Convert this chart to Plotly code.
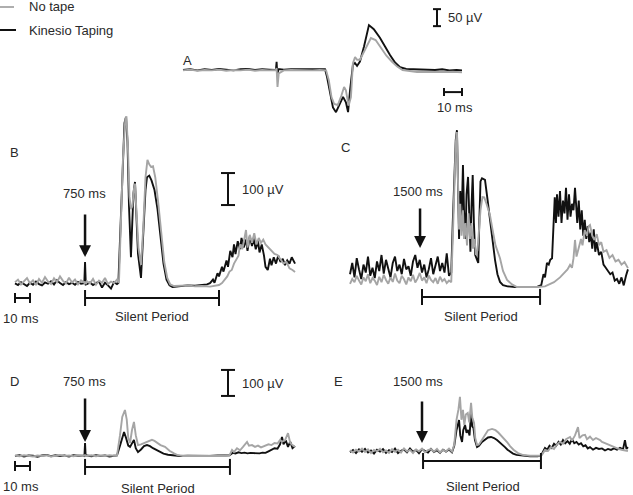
import plotly.graph_objects as go

# ---------------- data: time in ms, amplitude in µV ----------------
# A: compound muscle action potential (M-wave)
A_T_KT = [0, 4, 8, 12, 16, 20, 24, 28, 32, 36, 40, 44, 48, 51.6, 52.0, 52.4, 53.0, 56, 60, 64, 68, 72, 76,
          78.9, 80, 81.7, 83.3, 85, 87, 88.9, 90.5, 91.7, 92.8, 94.4, 95.5, 96.7, 98.3, 100.6, 103.3, 106,
          109.4, 112.2, 115, 117.8, 120.6, 124, 128, 132, 136, 140, 144, 148, 152, 155]
A_KT = [0, 2, -1, 2, 0, 3, 1, -1, 2, 3, 0, 2, 1, 0, 24, -15, 3, 1, 2, 3, 2, 2, 3,
        2, -20, -70, -110, -124, -100, -79, -95, -124, -60, 15, 21, 12, 25, 70, 132, 120,
        95, 68, 44, 22, 8, 3, 2, 3, 1, 0, 2, -1, 0, -1]
A_T_NT = [0, 4, 8, 12, 16, 20, 24, 28, 32, 36, 40, 44, 48, 51.6, 52.0, 52.5, 53.2, 56, 60, 64, 68, 72, 76,
          79.5, 81, 82.5, 84, 86, 88, 89.5, 90.5, 92, 93.3, 94.4, 95.6, 96.7, 98.3, 101, 104.4, 107,
          110, 113, 116, 119, 122, 126, 130, 134, 138, 142, 146, 150, 155]
A_NT = [-1, 1, -2, 0, -1, 1, -2, 0, -1, 1, -2, 0, -1, 0, 6, -50, -10, -1, 0, -1, 0, -1, 0,
        -1, -30, -80, -100, -103, -75, -50, -60, -105, -80, 20, 38, 30, 30, 60, 94, 88,
        65, 42, 25, 10, 0, -4, -6, -5, -6, -5, -6, -5, -7]

# B: 750 ms, no tape vs Kinesio Taping (upper row)
B_T_PRE = [0, 2, 4, 6, 8, 10, 12, 14, 16, 18, 20, 22, 24, 26, 28, 30, 32, 34, 36, 38, 40, 42, 44,
           46.2, 46.7, 47.2, 48, 50, 52, 54, 56, 58, 60, 62, 64, 66, 68]
B_KT_PRE = [8, 3, 12, 5, 0, 10, 4, 14, 6, 2, 11, 7, 15, 5, 18, 9, 3, 12, 6, 10, 4, 13, 7,
            9, 75, 5, 6, 11, 3, 9, 14, -5, 10, 2, -8, 12, 6]
B_NT_PRE = [12, 20, 5, 15, 25, 8, 18, 3, 22, 10, 28, 14, 6, 24, 12, 30, 16, 8, 26, 11, 20, 5, 18,
            10, 14, 6, 15, 8, 22, 4, 17, 10, 25, 6, 14, 9, 20]
B_T_KT = [68.9, 70, 71.5, 73, 74, 75, 76, 77.3, 78.2, 79, 80, 80.8, 82, 84, 85.5, 87, 88, 89.5, 91, 93,
          95, 97, 99, 101, 103, 105, 110, 115, 120, 125, 128, 130, 132, 133, 135, 136, 138, 139, 141, 142,
          143.5, 145, 146, 147, 148.5, 150, 151, 152.5, 154, 155, 156.5, 158, 159, 160.5, 162, 163, 164.5,
          166, 167, 168.5, 170, 171, 172.5, 174, 175.5, 177, 178.5, 180, 181.5, 183, 184.5, 186.7]
B_KT = [9, 150, 380, 510, 528, 450, 250, 90, 200, 290, 325, 220, 100, 25, 150, 300, 340, 345, 330, 300,
        240, 150, 70, 20, 2, -3, 0, 2, 1, 3, 5, 9, 20, 10, 40, 30, 60, 45, 80, 60,
        110, 90, 130, 100, 140, 115, 150, 120, 145, 110, 155, 125, 150, 115, 140, 105, 130,
        95, 60, 50, 85, 65, 90, 70, 95, 75, 85, 65, 80, 70, 90, 70]
B_T_NT = [69.3, 70.5, 72, 73.5, 74.3, 75.3, 76.3, 77.3, 78.3, 79.2, 80, 81, 82.3, 84, 85.5, 87, 88.3, 89.5,
          90.7, 92, 93.5, 95.5, 97.5, 99.5, 101.5, 103.5, 106, 110, 115, 120, 125, 130, 134, 136, 138, 140,
          141.5, 143, 144.5, 146, 147.5, 149, 150, 151.5, 153, 154, 155, 156.5, 158, 159.5, 161, 162.5,
          164, 165.5, 167, 169, 171, 173, 175, 177, 179, 181, 183, 185, 186.7]
B_NT = [10, 160, 400, 520, 530, 430, 280, 240, 250, 300, 320, 230, 120, 66, 180, 340, 394, 380,
        372, 374, 340, 260, 160, 75, 25, 5, 0, 1, 2, -1, 0, -2, 2, 3, 9, 20,
        30, 45, 50, 70, 85, 95, 130, 115, 150, 175, 120, 160, 135, 165, 130, 150,
        135, 145, 130, 120, 110, 100, 97, 85, 70, 75, 55, 50, 44]

# C: 1500 ms (upper row)
C_T_PRE = [0, 1.5, 3, 4.5, 6, 7.5, 9, 10.5, 12, 13.5, 15, 16.5, 18, 19.5, 21, 22.5, 24, 25.5, 27, 28.5,
           30, 31.5, 33, 34.5, 36, 37.5, 39, 40.5, 42, 43.5, 45, 46.5, 48, 49.5, 51, 52.5, 54, 55.5,
           57, 58.5, 60, 61.5, 63, 64.5, 66]
C_KT_PRE = [40, 75, 30, 90, 55, 25, 70, 45, 95, 35, 60, 28, 80, 50, 100, 42, 85, 60, 30, 75,
            95, 50, 70, 40, 88, 55, 65, 35, 80, 100, 60, 85, 45, 70, 30, 55, 90, 40,
            65, 95, 50, 75, 45, 105, 35]
C_NT_PRE = [10, 25, 15, 35, 20, 8, 30, 18, 40, 12, 28, 20, 6, 32, 15, 38, 22, 10, 30, 16,
            42, 20, 12, 35, 24, 8, 30, 18, 38, 14, 26, 44, 20, 30, 12, 36, 22, 15,
            28, 10, 32, 18, 25, 12, 20]
C_T_KT = [67.5, 68.5, 69.5, 70.5, 71.3, 72, 72.7, 73.5, 74.3, 75.3, 76, 77, 77.7, 78.7, 79.5, 80.3, 81,
          81.8, 82.6, 83.5, 84.7, 85.5, 86.2, 87, 88, 89, 90, 91.5, 93.3, 95, 96.7, 98.3, 100, 102, 105,
          110, 115, 120, 125, 127.5, 129, 130, 131.3, 132.5, 133.5, 134.7, 135.5, 136.5, 137.3, 138,
          139, 140, 141, 142, 143, 144, 145, 146, 147, 148, 149, 150, 150.7, 151.5, 152.5, 153.5,
          154.5, 155.5, 156.5, 157.5, 158.5, 159.5, 160.5, 161.5, 162.5, 163.5, 164.5, 166, 167.5,
          169, 170.5, 172, 173.5, 175, 176.5, 178, 179.5, 181, 182.5, 184, 185.3]
C_KT = [45, 200, 350, 460, 490, 330, 150, 300, 190, 381, 240, 150, 290, 344, 200, 110, 250,
        350, 200, 100, 85, 75, 200, 330, 340, 338, 335, 280, 209, 140, 84, 40, 16, 6, 2,
        0, 1, 0, 1, 6, 40, 30, 75, 70, 85, 90, 180, 280, 200, 290,
        220, 300, 200, 270, 230, 310, 210, 290, 220, 260, 240, 310, 260, 200, 270, 180,
        240, 160, 210, 150, 190, 140, 170, 120, 180, 110, 140, 100, 110,
        70, 60, 50, 40, 45, 20, 25, 10, 30, 5, 35, 55]
C_T_NT = [67.5, 68.5, 69.5, 70.5, 71.3, 72, 72.7, 73.5, 74.3, 75.3, 76, 77, 78, 79, 80, 81, 82, 83, 84,
          85, 86, 87, 88.3, 89.5, 91, 93.3, 95, 97, 100, 102, 104.7, 108, 111.3, 115, 120, 125, 130,
          133, 136, 140, 143, 145, 146.7, 148, 149, 150, 151, 152.5, 154, 155, 156.5, 158, 159, 160,
          161.5, 163, 164.5, 166, 167.5, 169, 171, 173, 175, 177, 179, 181, 183, 185.3]
C_NT = [15, 150, 330, 450, 484, 300, 180, 260, 160, 240, 150, 200, 130, 230, 150, 200, 120, 150, 100,
        115, 180, 240, 281, 280, 260, 225, 180, 130, 90, 50, 22, 8, 0, 0, -1, 0, 2,
        8, 15, 30, 45, 55, 69, 60, 90, 147, 95, 120, 150, 130, 178, 160, 190, 194,
        160, 147, 165, 131, 140, 110, 115, 91, 100, 80, 85, 70, 78, 59]

# D: 750 ms (lower row)
D_T_PRE = [0, 3, 6, 9, 12, 15, 18, 21, 24, 27, 30, 33, 36, 39, 42, 45, 46.3, 46.7, 47.1,
           48, 51, 54, 57, 60, 63, 66]
D_KT_PRE = [0, 3, -2, 2, 1, -3, 2, 4, -1, 3, 0, 2, -2, 3, 1, 2, 2, 50, 0, 2, -1, 3, 0, 2, -2, 1]
D_NT_PRE = [2, -1, 3, 1, -2, 2, 0, 3, -2, 1, 4, 0, 2, -1, 3, 0, 1, 3, 0, 1, 3, -1, 2, 0, 3, 1]
D_T_KT = [68, 70, 71.5, 72.7, 74, 75.5, 76.7, 78, 79.3, 80.5, 82, 84, 86, 88, 90, 92, 94, 96.7, 99, 102,
          105.3, 110, 115, 120, 125, 130, 135, 140, 143, 145, 147, 149, 151, 153, 155, 157, 159, 161,
          163, 165, 167, 169, 171, 173, 175, 176.7, 178, 179, 180.5, 182, 183.5, 185, 186.7]
D_KT = [2, 40, 75, 92, 70, 40, 35, 50, 62, 30, 15, 25, 38, 42, 38, 30, 24, 15, 9, 5,
        2, 0, 1, 0, 1, 0, 2, 1, 3, 12, 10, 14, 11, 13, 10, 12, 11, 12,
        10, 13, 12, 18, 25, 30, 28, 45, 73, 45, 60, 35, 55, 30, 38]
D_T_NT = [68, 70, 71.5, 73.3, 74.5, 75.5, 76.7, 78, 79.3, 80.5, 82, 84, 86, 88, 90, 91.3, 93, 95, 97, 100,
          103, 106, 108, 112, 120, 125, 130, 135, 140, 143, 144.7, 146, 148, 150, 152, 154.7, 156, 158,
          160, 162, 164, 166.7, 169, 171, 173, 175, 176.7, 178, 180, 182, 183.5, 185, 186.7]
D_NT = [2, 80, 150, 177, 140, 70, 50, 100, 131, 80, 42, 45, 50, 55, 60, 62, 58, 50, 42, 35,
        20, 10, 4, 0, 1, -1, 0, 1, 0, 2, 23, 15, 30, 22, 35, 54, 40, 42,
        35, 40, 33, 38, 45, 42, 50, 48, 62, 55, 60, 88, 50, 42, 35]

# E: 1500 ms (lower row)
E_T_PRE = [0, 2, 4, 6, 8, 10, 12, 14, 16, 18, 20, 22, 24, 26, 28, 30, 32, 34, 36, 38, 40, 42, 44, 46,
           48, 50, 52, 54, 56, 58, 60, 62, 64, 66, 68]
E_KT_PRE = [-5, 4, -8, 6, -3, 8, -6, 2, -10, 5, -2, 7, -7, 3, -4, 9, -8, 1, 6, -5, 10, -3, 4, -9,
            7, 0, -6, 8, -4, 3, -7, 5, -2, 6, -5]
E_NT_PRE = [3, -6, 5, -2, 9, -4, 6, -8, 4, -1, 8, -5, 2, -7, 7, -3, 5, -6, 10, -2, 4, -8, 6, -1,
            9, -5, 3, 7, -3, 8, -6, 4, -2, 9, -3]
E_T_KT = [69.5, 71, 72.7, 73.5, 74.7, 75.5, 76.7, 77.7, 78.7, 79.7, 80.7, 81.5, 82.3, 83.3, 84.7, 86, 88,
          90, 92, 94, 96, 98, 100, 102, 103.3, 105, 107, 108.7, 111, 115, 120, 125, 127.3, 128.5, 130,
          131.5, 133, 134.5, 136, 137.5, 139, 140.5, 142, 143.5, 145, 146.5, 148, 149.5, 151, 152.5,
          154, 155.5, 157, 158.5, 160, 162, 164, 166, 168, 170, 172, 174, 176, 178, 180, 182, 183.3,
          184.3, 185.3]
E_KT = [20, 80, 119, 60, 35, 80, 100, 70, 81, 60, 146, 95, 89, 42, 15, 20, 35,
        45, 52, 54, 50, 42, 33, 22, 15, 5, -5, -10, -15, -18, -20, -20, -18, -5, 12,
        5, 20, 12, 28, 20, 35, 25, 42, 30, 38, 28, 45, 30, 35, 25,
        30, 18, 22, 10, 15, 5, 12, 8, 10, 2, 8, 4, 10, 5, 12, 6, 42, 8, 15]
E_T_NT = [69.5, 71, 72.3, 73.3, 74.3, 75.3, 76.2, 77.2, 78.5, 79.5, 80.7, 81.5, 82.7, 83.5, 84.7, 86, 88,
          90, 92, 94.7, 97, 99, 101, 103.3, 105, 106.7, 109, 112, 115, 120, 125, 127.3, 128.5, 130, 132,
          134, 136, 138, 140, 142, 144, 146.7, 148, 150, 152, 153, 155, 156.7, 158, 160, 162, 164,
          166.7, 168, 170, 172, 174, 176.7, 179, 181, 183, 185.3]
E_NT = [25, 120, 160, 208, 120, 158, 100, 140, 146, 110, 185, 130, 108, 50, 23, 25, 45,
        65, 80, 85, 80, 70, 58, 45, 32, 19, 5, -8, -15, -18, -19, -18, -10, 4, 0,
        15, 8, 25, 35, 28, 45, 54, 40, 60, 92, 50, 60, 62, 45, 55, 42, 50,
        42, 35, 30, 25, 18, 12, 8, 5, 4, 0]

# stimulus (arrow) time and silent period limits, ms
STIM = {"B": 46.7, "C": 46.7, "D": 46.7, "E": 48.0}
SP_START = {"B": 46.7, "C": 48.0, "D": 46.7, "E": 48.7}
SP_END = {"B": 136, "C": 126.7, "D": 143.3, "E": 127.3}

# ---------------- layout geometry ----------------
W, H = 633, 495
FONT = "Liberation Sans, Arial, sans-serif"
INK = "#111111"
GREY = "#a5a5a5"
TXT = "#2a2a2a"

# pixel origin (time 0, 0 µV), px per ms, px per µV
GEOM = {
    "A": (183, 70, 1.8, 0.34),
    "B": (15, 286, 1.5, 0.32),
    "C": (350, 287, 1.5, 0.32),
    "D": (15, 456, 1.5, 0.26),
    "E": (350, 451, 1.5, 0.26),
}
AX = {"A": "", "B": "2", "C": "3", "D": "4", "E": "5"}

fig = go.Figure()

series = {
    "A": ((A_T_KT, A_KT), (A_T_NT, A_NT)),
    "B": ((B_T_PRE + B_T_KT, B_KT_PRE + B_KT), (B_T_PRE + B_T_NT, B_NT_PRE + B_NT)),
    "C": ((C_T_PRE + C_T_KT, C_KT_PRE + C_KT), (C_T_PRE + C_T_NT, C_NT_PRE + C_NT)),
    "D": ((D_T_PRE + D_T_KT, D_KT_PRE + D_KT), (D_T_PRE + D_T_NT, D_NT_PRE + D_NT)),
    "E": ((E_T_PRE + E_T_KT, E_KT_PRE + E_KT), (E_T_PRE + E_T_NT, E_NT_PRE + E_NT)),
}

for p, (kt, nt) in series.items():
    a = AX[p]
    fig.add_trace(go.Scatter(x=kt[0], y=kt[1], mode="lines", name="Kinesio Taping",
                             line=dict(color=INK, width=1.9), xaxis="x" + a, yaxis="y" + a,
                             showlegend=False, hoverinfo="skip"))
    fig.add_trace(go.Scatter(x=nt[0], y=nt[1], mode="lines", name="No tape",
                             line=dict(color=GREY, width=1.9), xaxis="x" + a, yaxis="y" + a,
                             showlegend=False, hoverinfo="skip"))

layout_axes = {}
for p, (x0, y0, sx, sy) in GEOM.items():
    a = AX[p]
    xa = dict(range=[-x0 / sx, (W - x0) / sx], visible=False, fixedrange=True)
    ya = dict(range=[(y0 - H) / sy, y0 / sy], visible=False, fixedrange=True)
    if a:
        xa["overlaying"] = "x"
        ya["overlaying"] = "y"
        ya["anchor"] = "x" + a
        xa["anchor"] = "y" + a
    layout_axes["xaxis" + a] = xa
    layout_axes["yaxis" + a] = ya

shapes = []


def seg(p, t0, v0, t1, v1, color=INK, width=2):
    a = AX[p]
    shapes.append(dict(type="line", xref="x" + a, yref="y" + a, x0=t0, y0=v0, x1=t1, y1=v1,
                       line=dict(color=color, width=width)))


def vbar(p, t, v_lo, v_hi, cap_px):
    sx = GEOM[p][2]
    seg(p, t, v_lo, t, v_hi)
    seg(p, t - cap_px / sx, v_lo, t + cap_px / sx, v_lo)
    seg(p, t - cap_px / sx, v_hi, t + cap_px / sx, v_hi)


def hbar(p, t_lo, t_hi, v, cap_px):
    sy = GEOM[p][3]
    seg(p, t_lo, v, t_hi, v)
    seg(p, t_lo, v - cap_px / sy, t_lo, v + cap_px / sy)
    seg(p, t_hi, v - cap_px / sy, t_hi, v + cap_px / sy)


# amplitude / time scale bars
vbar("A", 141.1, 129, 179, 4)
hbar("A", 145, 155, -65, 4)
vbar("B", 142, 253, 353, 7)
hbar("B", 0, 10, -37.5, 5)
vbar("D", 142, 231, 331, 7)
hbar("D", 0, 10, -38.5, 5)

# silent period brackets
hbar("B", SP_START["B"], SP_END["B"], -37.5, 8)
hbar("C", SP_START["C"], SP_END["C"], -31, 8)
hbar("D", SP_START["D"], SP_END["D"], -42, 8)
hbar("E", SP_START["E"], SP_END["E"], -38.5, 8)

# legend keys
shapes.append(dict(type="line", xref="paper", yref="paper", x0=0, x1=14 / W,
                   y0=1 - 7 / H, y1=1 - 7 / H, line=dict(color=GREY, width=1.8)))
shapes.append(dict(type="line", xref="paper", yref="paper", x0=0, x1=16 / W,
                   y0=1 - 30 / H, y1=1 - 30 / H, line=dict(color=INK, width=2)))

annotations = []


def label(text, x, y, anchor="center", size=13):
    annotations.append(dict(text=text, x=x / W, y=1 - y / H, xref="paper", yref="paper",
                            xanchor=anchor, yanchor="middle", showarrow=False,
                            font=dict(family=FONT, size=size, color=TXT)))


# arrows marking the conditioning interval
ARROWS = {"B": (90.6, 44), "C": (122, 41), "D": (54, 45), "E": (31, 43)}
for p, (tip_v, length) in ARROWS.items():
    a = AX[p]
    annotations.append(dict(x=STIM[p], y=tip_v, xref="x" + a, yref="y" + a, ax=0, ay=-length,
                            text="", showarrow=True, arrowhead=2, arrowsize=0.95,
                            arrowwidth=2.5, arrowcolor=INK))

label("No tape", 27, 7, "left")
label("Kinesio Taping", 27, 31, "left")
label("A", 187, 60)
label("50 µV", 446, 17, "left")
label("10 ms", 455, 108)
label("B", 15, 152)
label("750 ms", 84, 193)
label("100 µV", 240, 189, "left")
label("10 ms", 21, 318)
label("Silent Period", 152, 316)
label("C", 345, 148)
label("1500 ms", 418, 191)
label("Silent Period", 481, 316)
label("D", 15, 381)
label("750 ms", 84, 381)
label("100 µV", 240, 383, "left")
label("10 ms", 21, 486)
label("Silent Period", 158, 488)
label("E", 338, 381)
label("1500 ms", 418, 381)
label("Silent Period", 483, 486)

fig.update_layout(
    width=W, height=H,
    margin=dict(l=0, r=0, t=0, b=0),
    paper_bgcolor="white", plot_bgcolor="white",
    showlegend=False, hovermode=False,
    shapes=shapes, annotations=annotations,
    **layout_axes,
)

# the page body has a default 8px margin; drop it so the figure fills the window
fig.write_html("out.html", config={"displayModeBar": False},
               post_script="document.body.style.margin = '0';")
